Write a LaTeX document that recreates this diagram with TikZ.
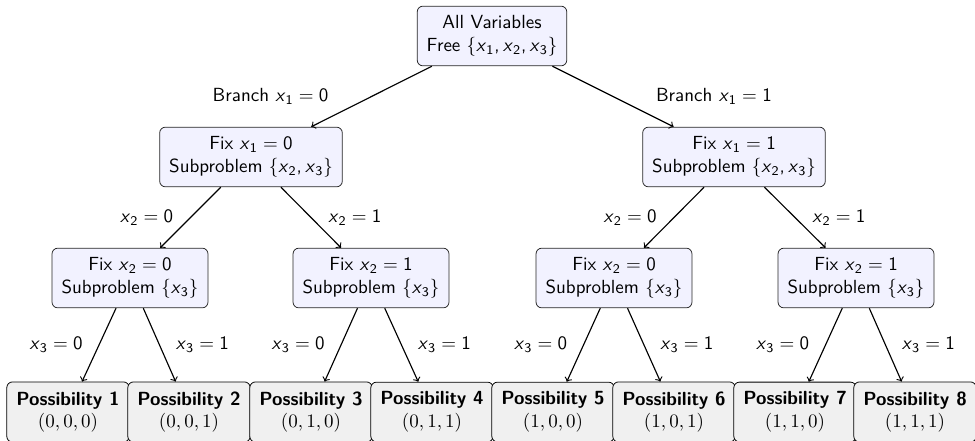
\documentclass[tikz,border=0pt]{standalone}
\usepackage{tikz}
\usetikzlibrary{positioning}

% sans italic variable with a sans subscript
\newcommand{\xs}[1]{\textit{x}\textsubscript{#1}}
\newcommand{\eqs}{${}={}$}

\begin{document}
\begin{tikzpicture}[
        x=0.5263pt, y=-0.5263pt,
        every node/.style = {align=center},
        box/.style  = {rectangle, rounded corners=3pt, draw=black!85,
                       fill=blue!5, inner sep=5pt, font=\sffamily},
        leaf/.style = {rectangle, rounded corners=3pt, draw=black,
                       fill=black!6, inner sep=5pt, minimum width=63.5pt,
                       font=\sffamily},
        arrow/.style = {->, semithick, draw=black},
        lbl/.style   = {midway, font=\sffamily}
    ]
    \useasboundingbox (0,0) rectangle (975,440);

    % --- Root and first split ---
    \node[box] (root) at (492,36) {All Variables\\Free $\{$\xs{1},\,\xs{2},\,\xs{3}$\}$};
    \node[box] (fa) at (251,157) {Fix \xs{1}\eqs 0\\Subproblem $\{$\xs{2},\,\xs{3}$\}$};
    \node[box] (fb) at (734,157) {Fix \xs{1}\eqs 1\\Subproblem $\{$\xs{2},\,\xs{3}$\}$};

    % --- Second split ---
    \node[box] (faa) at (130,278) {Fix \xs{2}\eqs 0\\Subproblem $\{$\xs{3}$\}$};
    \node[box] (fab) at (371,278) {Fix \xs{2}\eqs 1\\Subproblem $\{$\xs{3}$\}$};
    \node[box] (fba) at (614,278) {Fix \xs{2}\eqs 0\\Subproblem $\{$\xs{3}$\}$};
    \node[box] (fbb) at (856,278) {Fix \xs{2}\eqs 1\\Subproblem $\{$\xs{3}$\}$};

    % --- All eight possibilities ---
    \node[leaf] (p1) at (68,412)  {\textbf{Possibility 1}\\$(0,0,0)$};
    \node[leaf] (p2) at (189,412) {\textbf{Possibility 2}\\$(0,0,1)$};
    \node[leaf] (p3) at (311,412) {\textbf{Possibility 3}\\$(0,1,0)$};
    \node[leaf] (p4) at (432,412) {\textbf{Possibility 4}\\$(0,1,1)$};
    \node[leaf] (p5) at (553,412) {\textbf{Possibility 5}\\$(1,0,0)$};
    \node[leaf] (p6) at (674,412) {\textbf{Possibility 6}\\$(1,0,1)$};
    \node[leaf] (p7) at (795,412) {\textbf{Possibility 7}\\$(1,1,0)$};
    \node[leaf] (p8) at (915,412) {\textbf{Possibility 8}\\$(1,1,1)$};

    % --- Branches ---
    \draw[arrow] (root) -- node[lbl, left=19pt]  {Branch \xs{1}\eqs 0} (fa);
    \draw[arrow] (root) -- node[lbl, right=19pt] {Branch \xs{1}\eqs 1} (fb);

    \draw[arrow] (fa) -- node[lbl, left=5.5pt]  {\xs{2}\eqs 0} (faa);
    \draw[arrow] (fa) -- node[lbl, right=5.5pt] {\xs{2}\eqs 1} (fab);
    \draw[arrow] (fb) -- node[lbl, left=5.5pt]  {\xs{2}\eqs 0} (fba);
    \draw[arrow] (fb) -- node[lbl, right=5.5pt] {\xs{2}\eqs 1} (fbb);

    \draw[arrow] (faa) -- node[lbl, left=5pt]  {\xs{3}\eqs 0} (p1);
    \draw[arrow] (faa) -- node[lbl, right=5pt] {\xs{3}\eqs 1} (p2);
    \draw[arrow] (fab) -- node[lbl, left=5pt]  {\xs{3}\eqs 0} (p3);
    \draw[arrow] (fab) -- node[lbl, right=5pt] {\xs{3}\eqs 1} (p4);
    \draw[arrow] (fba) -- node[lbl, left=5pt]  {\xs{3}\eqs 0} (p5);
    \draw[arrow] (fba) -- node[lbl, right=5pt] {\xs{3}\eqs 1} (p6);
    \draw[arrow] (fbb) -- node[lbl, left=5pt]  {\xs{3}\eqs 0} (p7);
    \draw[arrow] (fbb) -- node[lbl, right=5pt] {\xs{3}\eqs 1} (p8);

\end{tikzpicture}
\end{document}
